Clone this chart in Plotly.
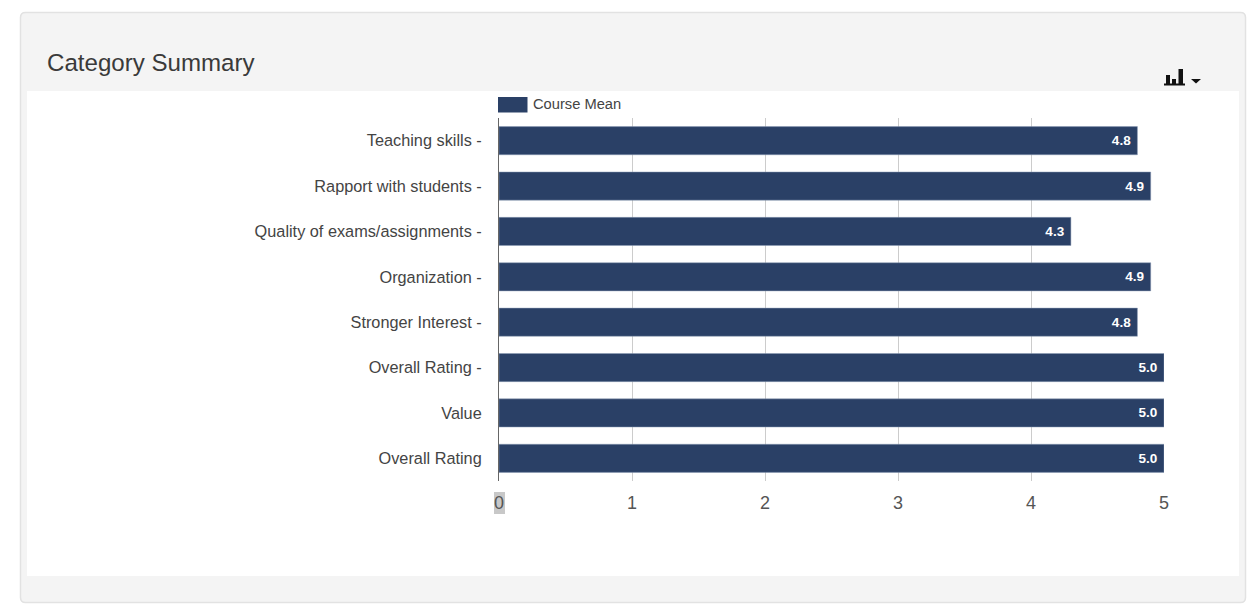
import plotly.graph_objects as go

WIDTH, HEIGHT = 1247, 610
PLOT_LEFT, PLOT_RIGHT, PLOT_TOP, PLOT_BOTTOM = 499, 1164, 118, 481

categories = [
    "Teaching skills -",
    "Rapport with students -",
    "Quality of exams/assignments -",
    "Organization -",
    "Stronger Interest -",
    "Overall Rating -",
    "Value",
    "Overall Rating",
]
course_mean = [4.8, 4.9, 4.3, 4.9, 4.8, 5.0, 5.0, 5.0]
x_ticks = [0, 1, 2, 3, 4, 5]

BAR_COLOR = "#2a4066"
TEXT_COLOR = "#444444"
FONT = "Liberation Sans, Arial, sans-serif"


def px(x):
    """Page pixel column to paper coordinate."""
    return (x - PLOT_LEFT) / (PLOT_RIGHT - PLOT_LEFT)


def py(y):
    """Page pixel row to paper coordinate."""
    return (PLOT_BOTTOM - y) / (PLOT_BOTTOM - PLOT_TOP)


def rect(x0, y0, x1, y1, fill, line=None):
    return dict(
        type="rect", xref="paper", yref="paper", layer="below",
        x0=px(x0), x1=px(x1), y0=py(y0), y1=py(y1),
        fillcolor=fill, line=dict(color=line or fill, width=1 if line else 0),
    )


def rounded_panel(x0, y0, x1, y1, r, fill, line):
    p = (
        f"M {px(x0 + r)} {py(y0)} L {px(x1 - r)} {py(y0)} "
        f"Q {px(x1)} {py(y0)} {px(x1)} {py(y0 + r)} "
        f"L {px(x1)} {py(y1 - r)} Q {px(x1)} {py(y1)} {px(x1 - r)} {py(y1)} "
        f"L {px(x0 + r)} {py(y1)} Q {px(x0)} {py(y1)} {px(x0)} {py(y1 - r)} "
        f"L {px(x0)} {py(y0 + r)} Q {px(x0)} {py(y0)} {px(x0 + r)} {py(y0)} Z"
    )
    return dict(type="path", xref="paper", yref="paper", layer="below", path=p,
                fillcolor=fill, line=dict(color=line, width=1.5))


def triangle(x0, x1, y0, y1, fill):
    xm = (x0 + x1) / 2
    p = f"M {px(x0)} {py(y0)} L {px(x1)} {py(y0)} L {px(xm)} {py(y1)} Z"
    return dict(type="path", xref="paper", yref="paper", path=p,
                fillcolor=fill, line=dict(width=0))


shapes = [
    rounded_panel(20.5, 12.5, 1245.5, 602.5, 5, "#f4f4f4", "#e2e2e2"),
    rect(27, 91, 1239, 576, "#ffffff"),
    # grey highlight behind the zero tick label
    rect(494, 492, 505, 514, "#c8c8c8"),
    # legend swatch
    rect(498, 97, 527.5, 112.5, BAR_COLOR),
    # chart-type menu icon: small bars, baseline and caret
    rect(1164, 83.5, 1185, 85.5, "#111111"),
    rect(1166, 75, 1170, 85, "#111111"),
    rect(1172, 79, 1176, 85, "#111111"),
    rect(1178.5, 69, 1183, 85, "#111111"),
    triangle(1191, 1201, 79, 83.5, "#111111"),
]

annotations = [
    dict(text="Category Summary", xref="paper", yref="paper", x=px(45), y=py(63),
         xanchor="left", yanchor="middle", showarrow=False,
         font=dict(family=FONT, size=24.1, color="#3a3a3a")),
    dict(text="Course Mean", xref="paper", yref="paper", x=px(531), y=py(104),
         xanchor="left", yanchor="middle", showarrow=False,
         font=dict(family=FONT, size=14.7, color="#444444")),
]

fig = go.Figure(
    go.Bar(
        y=categories,
        x=course_mean,
        orientation="h",
        name="Course Mean",
        marker=dict(color=BAR_COLOR, line=dict(color="#8a9ab5", width=0.5)),
        # trailing no-break space keeps the value clear of the bar end
        text=[f"{v:.1f}\u00a0" for v in course_mean],
        textposition="inside",
        insidetextanchor="end",
        textangle=0,
        constraintext="none",
        textfont=dict(family=FONT, size=13.5, color="#ffffff", weight="bold"),
        hoverinfo="x+y",
    )
)

fig.update_layout(
    width=WIDTH,
    height=HEIGHT,
    autosize=False,
    margin=dict(l=PLOT_LEFT, r=WIDTH - PLOT_RIGHT, t=PLOT_TOP, b=HEIGHT - PLOT_BOTTOM, pad=0),
    paper_bgcolor="#ffffff",
    plot_bgcolor="rgba(0,0,0,0)",
    showlegend=False,
    bargap=0.38,
    shapes=shapes,
    annotations=annotations,
    xaxis=dict(
        range=[0, 5],
        tickmode="array",
        tickvals=x_ticks,
        ticktext=[str(t) for t in x_ticks],
        showgrid=True,
        gridcolor="#cccccc",
        gridwidth=1,
        zeroline=False,
        showline=False,
        ticks="",
        ticklabelstandoff=9,
        tickfont=dict(family=FONT, size=18, color="#555555"),
    ),
    yaxis=dict(
        categoryorder="array",
        categoryarray=categories,
        autorange="reversed",
        showgrid=False,
        zeroline=False,
        showline=True,
        linecolor="#666666",
        linewidth=1,
        ticks="",
        ticklabelstandoff=13,
        tickfont=dict(family=FONT, size=16.3, color=TEXT_COLOR),
    ),
)

fig.write_html("out.html", config=dict(displayModeBar=False))
